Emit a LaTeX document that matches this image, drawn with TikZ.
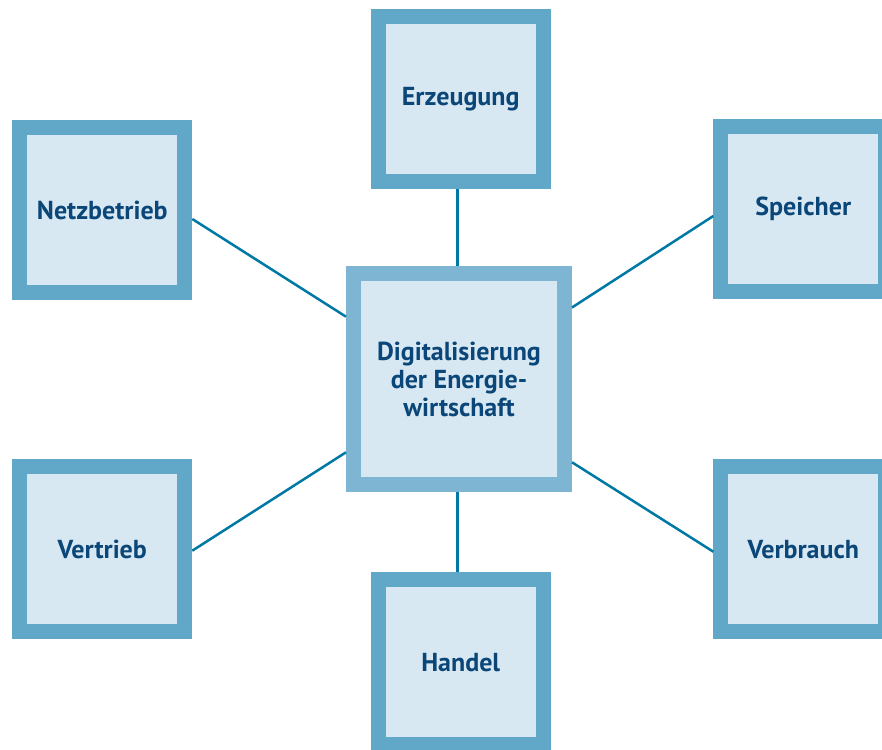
\documentclass[tikz,border=0pt]{standalone}
\usepackage{fontspec}
\setmainfont{PT Sans}
\usetikzlibrary{positioning}
\definecolor{rahmen}{HTML}{61A8C8}
\definecolor{rahmenhell}{HTML}{7DB5D3}
\definecolor{flaeche}{HTML}{D8E8F3}
\definecolor{schrift}{HTML}{0A4678}
\definecolor{linie}{HTML}{0078A5}
\begin{document}
\begin{tikzpicture}[x=1pt,y=1pt,
        feld/.style={draw=rahmen,line width=15pt,fill=flaeche,minimum size=165pt,
          inner sep=0pt,text=schrift,align=center,
          font=\bfseries\fontsize{26}{27.6}\selectfont},% outer boxes
        mitte/.style={feld,draw=rahmenhell,minimum size=211pt},
        verbinder/.style={draw=linie,line width=2.5pt}]
\useasboundingbox (0,0) rectangle (882,749);
\node[mitte] (M) at (459,369.5) {Digitalisierung\\der Energie-\\wirtschaft};
\foreach \nm/\px/\py/\txt in {E/460.7/649.7/Erzeugung,N/102.3/539/Netzbetrieb,
        S/803.3/539.7/Speicher,V/102.3/199.7/Vertrieb,
        B/803.3/199.7/Verbrauch,H/460.7/86.7/Handel}{ %one box per field
\node[feld] (F-\nm) at (\px,\py) {\txt};
}
\draw[verbinder] ([xshift=-1.5pt]M.north) -- ([xshift=-1.5pt]M.north |- F-E.south);
\draw[verbinder] ([xshift=-1.5pt]M.south) -- ([xshift=-1.5pt]M.south |- F-H.north);
\draw[verbinder] ([yshift=-9pt]F-N.east) -- ([yshift=62.8pt]M.west);
\draw[verbinder] ([yshift=72pt]M.east) -- ([yshift=-6.7pt]F-S.west);
\draw[verbinder] ([yshift=-1.4pt]F-V.east) -- ([yshift=-72.8pt]M.west);
\draw[verbinder] ([yshift=-82.8pt]M.east) -- ([yshift=-2.4pt]F-B.west);
\end{tikzpicture}
\end{document}
